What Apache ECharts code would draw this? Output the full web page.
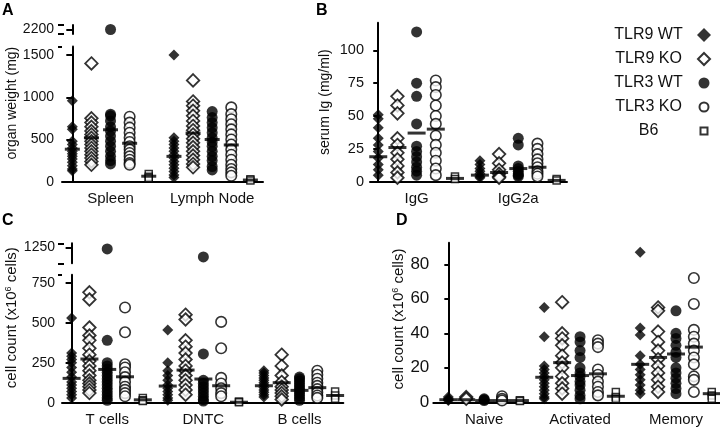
<!DOCTYPE html>
<html><head><meta charset="utf-8">
<script src="https://cdn.jsdelivr.net/npm/echarts@6/dist/echarts.min.js"></script>
<style>html,body{margin:0;padding:0;background:#fff}#c{width:720px;height:427px}</style>
</head><body><div id="c"></div>
<script>
// ---------- DATA ----------
const groupNames = ['TLR9 WT','TLR9 KO','TLR3 WT','TLR3 KO','B6'];

// Panel A: organ weight (mg)
const catsA = ['Spleen','Lymph Node'];
const organ_TLR9WT = [[960,650,620,480,440,400,360,330,300,270,230,190,150,130],[1500,520,480,440,400,360,320,280,240,200,160,120,80,50]];
const organ_TLR9KO = [[1400,750,700,650,600,560,520,480,440,400,360,320,280,240,200],[1200,950,900,840,780,720,660,610,560,510,460,410,360,310,260,210,170]];
const organ_TLR3WT = [[2200,800,780,720,650,600,540,480,420,360,300,250,210],[830,760,700,640,580,520,470,420,360,300,250,180,140]];
const organ_TLR3KO = [[770,700,640,580,520,470,420,380,340,300,260,220,200],[880,800,740,680,620,560,500,440,380,320,260,200,150,110,70]];
const organ_B6 = [[90,60,45],[30,15]];
const organ_mean = [[385,300],[520,575],[615,500],[455,435],[65,20]];

// Panel B: serum Ig (mg/ml)
const catsB = ['IgG','IgG2a'];
const ig_TLR9WT = [[51,48,41,33,28,23,18,13,9,5],[16,13,10,8,6,4,3]];
const ig_TLR9KO = [[65,58,52,33,28,22,17,12,7,3],[21,14,9,6,4,3]];
const ig_TLR3WT = [[114,75,65,44,27,23,19,15,11,8,5],[33,28,12,10,8,6,5,4]];
const ig_TLR3KO = [[77,72,66,58,50,44,35,28,22,16,10,5],[29,25,21,17,14,11,8,6,4]];
const ig_B6 = [[4,2],[2,1]];
const ig_mean = [[19,5],[26,7],[37,10],[40,11],[2.5,1]];

// Panel C: cell count (x10^6 cells)
const catsC = ['T cells','DNTC','B cells'];
const cell_TLR9WT = [[530,310,290,270,250,220,190,160,130,110,90,70,50,30],[455,250,200,170,140,110,90,70,50,30,15],[200,185,170,155,140,125,110,95,80,65,50,35]];
const cell_TLR9KO = [[690,645,470,420,390,340,300,260,230,200,170,140,120,100,80,60],[550,520,390,350,310,270,230,200,170,140,110,80,50],[300,230,170,130,100,80,60,40,20]];
const cell_TLR3WT = [[1240,390,250,230,210,190,170,150,130,110,90,70,50,30,15],[1190,305,140,120,100,80,60,40,20,10],[160,150,135,120,105,90,75,60,45,30,15]];
const cell_TLR3KO = [[595,440,240,220,190,160,130,100,80,60,40],[505,340,155,120,90,60,40],[200,175,150,125,105,85,65,45,30]];
const cell_B6 = [[30,15,10],[8,3],[70,45,25]];
const cell_mean = [[152,104,106],[273,204,125],[208,148,77],[162,106,94],[18,3,45]];

// Panel D: cell count (x10^6 cells)
const catsD = ['Naive','Activated','Memory'];
const sub_TLR9WT = [[3,2,1.5,1],[55,38,21,19,17,15,13,11,9,7,5,3,2],[87,43,39,27,22,19,16,13,10,7,5]];
const sub_TLR9KO = [[3,2],[58,40,37,33,27,23,20,15,11,8,5],[55,53,41,35,30,25,21,17,13,9,6]];
const sub_TLR3WT = [[2,1.5,1],[38,35,30,26,20,17,15,12,10,7,4,2],[53,40,37,33,29,26,20,17,14,11,8,5]];
const sub_TLR3KO = [[3.5,2,1],[36,34,32,19,16,12,9,6,4],[72,57,42,38,34,30,26,22,15,13,6]];
const sub_B6 = [[1.2,0.8],[6,3,2],[6,4,2]];
const sub_mean = [[1.5,14.5,22],[1.5,23,26],[1,15.5,28],[1,16.5,32],[1,3.5,5]];

// ---------- STYLE / LAYOUT ----------
const FONT = 'Liberation Sans';
const TXT = '#111';
const groupStyles = [
  {symbol:'diamond', symbolSize:11, itemStyle:{color:'#000'}},
  {symbol:'diamond', symbolSize:12.5, itemStyle:{color:'#fff', borderColor:'#000', borderWidth:1.8}},
  {symbol:'circle', symbolSize:11, itemStyle:{color:'#000'}},
  {symbol:'circle', symbolSize:10.5, itemStyle:{color:'#fff', borderColor:'#000', borderWidth:1.6}},
  {symbol:'rect', symbolSize:7, itemStyle:{color:'#fff', borderColor:'#000', borderWidth:1.5}}
];
// legend icons (smaller shapes inside a fixed 28-unit frame)
const legendIcons = [
  'diamond',
  'path://M0 0L0 0M28 28L28 28M14 2L26 14L14 26L2 14Z',
  'path://M0 0L0 0M28 28L28 28M14 3A11 11 0 1 1 14 25A11 11 0 1 1 14 3Z',
  'path://M0 0L0 0M28 28L28 28M14 5A9 9 0 1 1 14 23A9 9 0 1 1 14 5Z',
  'path://M0 0L0 0M28 28L28 28M7 7L21 7L21 21L7 21Z'
];
const cellName = '{a|cell count (x10}{s|6}{a| cells)}';
const panels = [
  {cats:catsA, groups:[organ_TLR9WT,organ_TLR9KO,organ_TLR3WT,organ_TLR3KO,organ_B6], means:organ_mean,
   name:'organ weight (mg)', nameFont:14, nameGap:42, nameShift:11,
   grid:{left:62, top:46.6, width:201, height:135.1}, xmin:-0.54, xmax:9.98, step:5.32,
   ymax:1600, yTicks:[0,500,1000,1500], yLabels:[0,500,1000,1500], caps:[1600], tickLen:6, labelMargin:8, labelFont:14, barW:15,
   upper:{top:25, height:9, min:2150, max:2250, ticks:[2200], labels:[2200], caps:[2150,2250]}},
  {cats:catsB, groups:[ig_TLR9WT,ig_TLR9KO,ig_TLR3WT,ig_TLR3KO,ig_B6], means:ig_mean,
   name:'serum Ig (mg/ml)', nameFont:14, nameGap:38, nameShift:0,
   grid:{left:370, top:22.7, width:197, height:159}, xmin:-0.43, xmax:9.84, step:5.3,
   ymax:121, yTicks:[0,25,50,75,100], yLabels:[0,25,50,75,100], tickLen:5, labelMargin:6, labelFont:14.5, barW:18},
  {cats:catsC, groups:[cell_TLR9WT,cell_TLR9KO,cell_TLR3WT,cell_TLR3KO,cell_B6], means:cell_mean,
   name:cellName, rich:true, nameFont:15, nameGap:43, nameShift:21,
   grid:{left:62, top:274.7, width:281.3, height:128}, xmin:-0.54, xmax:15.26, step:5.4,
   ymax:800, yTicks:[0,250,500,750], yLabels:[0,250,500,750], caps:[800], tickLen:6, labelMargin:7, labelFont:14, barW:18,
   upper:{top:243.3, height:20, min:1150, max:1275, ticks:[1250], labels:[1250], caps:[1150,1275]}},
  {cats:catsD, groups:[sub_TLR9WT,sub_TLR9KO,sub_TLR3WT,sub_TLR3KO,sub_B6], means:sub_mean,
   name:cellName, rich:true, nameFont:15, nameGap:22, nameShift:3.5,
   grid:{left:433.3, top:242.7, width:286.7, height:159.6}, xmin:-0.84, xmax:15.18, step:5.36,
   ymax:92.5, yTicks:[0,20,40,60,80], yLabels:[0,20,40,60,80], tickLen:4, labelMargin:4, labelFont:17, barW:18}
];

const option = {
  animation:false,
  textStyle:{fontFamily:FONT},
  title:[['A',2,3],['B',316,3],['C',2,213],['D',396,213]].map(t=>({text:t[0], left:t[1], top:t[2], padding:0,
    textStyle:{fontSize:16, fontWeight:'bold', color:'#000', fontFamily:FONT}})),
  legend:{
    data:groupNames.map((n,i)=>({name:n, icon:legendIcons[i]})),
    orient:'vertical', left:600, top:22, align:'right', itemWidth:14, itemHeight:14, itemGap:8,
    selectedMode:false, formatter:'{a|{name}}',
    textStyle:{rich:{a:{width:87, align:'center', fontSize:16, lineHeight:18, color:TXT, fontFamily:FONT}}}
  },
  grid:[], xAxis:[], yAxis:[], series:[]
};

function yAxisBase(gi, min, max, ticks, labels, p){
  return {gridIndex:gi, type:'value', position:'left', offset:0, min:min, max:max, splitLine:{show:false},
    axisLine:{show:true, lineStyle:{color:'#000', width:2}},
    axisTick:{show:true, length:p.tickLen, lineStyle:{color:'#000', width:2}, customValues:ticks},
    axisLabel:{customValues:labels, formatter:v=>String(v), fontSize:p.labelFont, color:TXT, margin:p.labelMargin, fontFamily:FONT}};
}
function capAxis(gi, min, max, caps, inside, len){
  return {gridIndex:gi, type:'value', position:'left', offset:0, min:min, max:max, splitLine:{show:false},
    axisLine:{show:false}, axisLabel:{show:false},
    axisTick:{show:true, inside:inside, length:len, lineStyle:{color:'#000', width:2}, customValues:caps}};
}

panels.forEach(p => {
  const gi = option.grid.length;
  option.grid.push(Object.assign({containLabel:false, outerBoundsMode:'none'}, p.grid));
  option.xAxis.push({gridIndex:gi, type:'value', min:p.xmin, max:p.xmax, splitLine:{show:false},
    axisTick:{show:false}, axisLine:{show:true, onZero:false, lineStyle:{color:'#000', width:2}},
    axisLabel:{customValues:p.cats.map((c,i)=>i*p.step+2), formatter:v=>p.cats[Math.round((v-2)/p.step)],
      fontSize:15, color:TXT, margin:10, fontFamily:FONT}});
  const ya = yAxisBase(gi, 0, p.ymax, p.yTicks, p.yLabels, p);
  ya.name = p.name; ya.nameLocation = 'middle'; ya.nameRotate = 90; ya.nameGap = p.nameGap;
  ya.nameTextStyle = {fontSize:p.nameFont, color:TXT, fontFamily:FONT, padding:[0,0,0,2*p.nameShift]};
  if (p.rich) ya.nameTextStyle.rich = {
    a:{fontSize:p.nameFont, color:TXT, fontFamily:FONT},
    s:{fontSize:9, color:TXT, fontFamily:FONT, verticalAlign:'top'}};
  option.yAxis.push(ya);
  const xi = option.xAxis.length-1, yi = option.yAxis.length-1;
  if (p.caps) option.yAxis.push(capAxis(gi, 0, p.ymax, p.caps, false, 4));
  let uxi = -1, uyi = -1;
  if (p.upper) {
    const ug = option.grid.length;
    option.grid.push({containLabel:false, outerBoundsMode:'none', left:p.grid.left, width:p.grid.width, top:p.upper.top, height:p.upper.height});
    option.xAxis.push({gridIndex:ug, type:'value', min:p.xmin, max:p.xmax, show:false});
    option.yAxis.push(yAxisBase(ug, p.upper.min, p.upper.max, p.upper.ticks, p.upper.labels, p));
    uxi = option.xAxis.length-1; uyi = option.yAxis.length-1;
    option.yAxis.push(capAxis(ug, p.upper.min, p.upper.max, p.upper.caps, false, 4));
    option.yAxis.push(capAxis(ug, p.upper.min, p.upper.max, p.upper.caps, true, 2));
  }
  p.groups.forEach((g,k) => {
    const low = [], up = [];
    g.forEach((vals,ci) => vals.forEach(v => (v > p.ymax ? up : low).push([ci*p.step+k, v])));
    const st = groupStyles[k];
    option.series.push(Object.assign({type:'scatter', name:groupNames[k], xAxisIndex:xi, yAxisIndex:yi, data:low, silent:true}, st));
    if (up.length) option.series.push(Object.assign({type:'scatter', name:groupNames[k], xAxisIndex:uxi, yAxisIndex:uyi, data:up, silent:true, clip:false}, st));
  });
  option.series.push({type:'scatter', name:'mean', xAxisIndex:xi, yAxisIndex:yi, symbol:'rect',
    symbolSize:[p.barW,3], itemStyle:{color:'#000'}, z:5, silent:true,
    data:p.means.flatMap((m,k)=>m.map((v,ci)=>[ci*p.step+k, v]))});
});

const chart = echarts.init(document.getElementById('c'));
chart.setOption(option);
</script></body></html>
